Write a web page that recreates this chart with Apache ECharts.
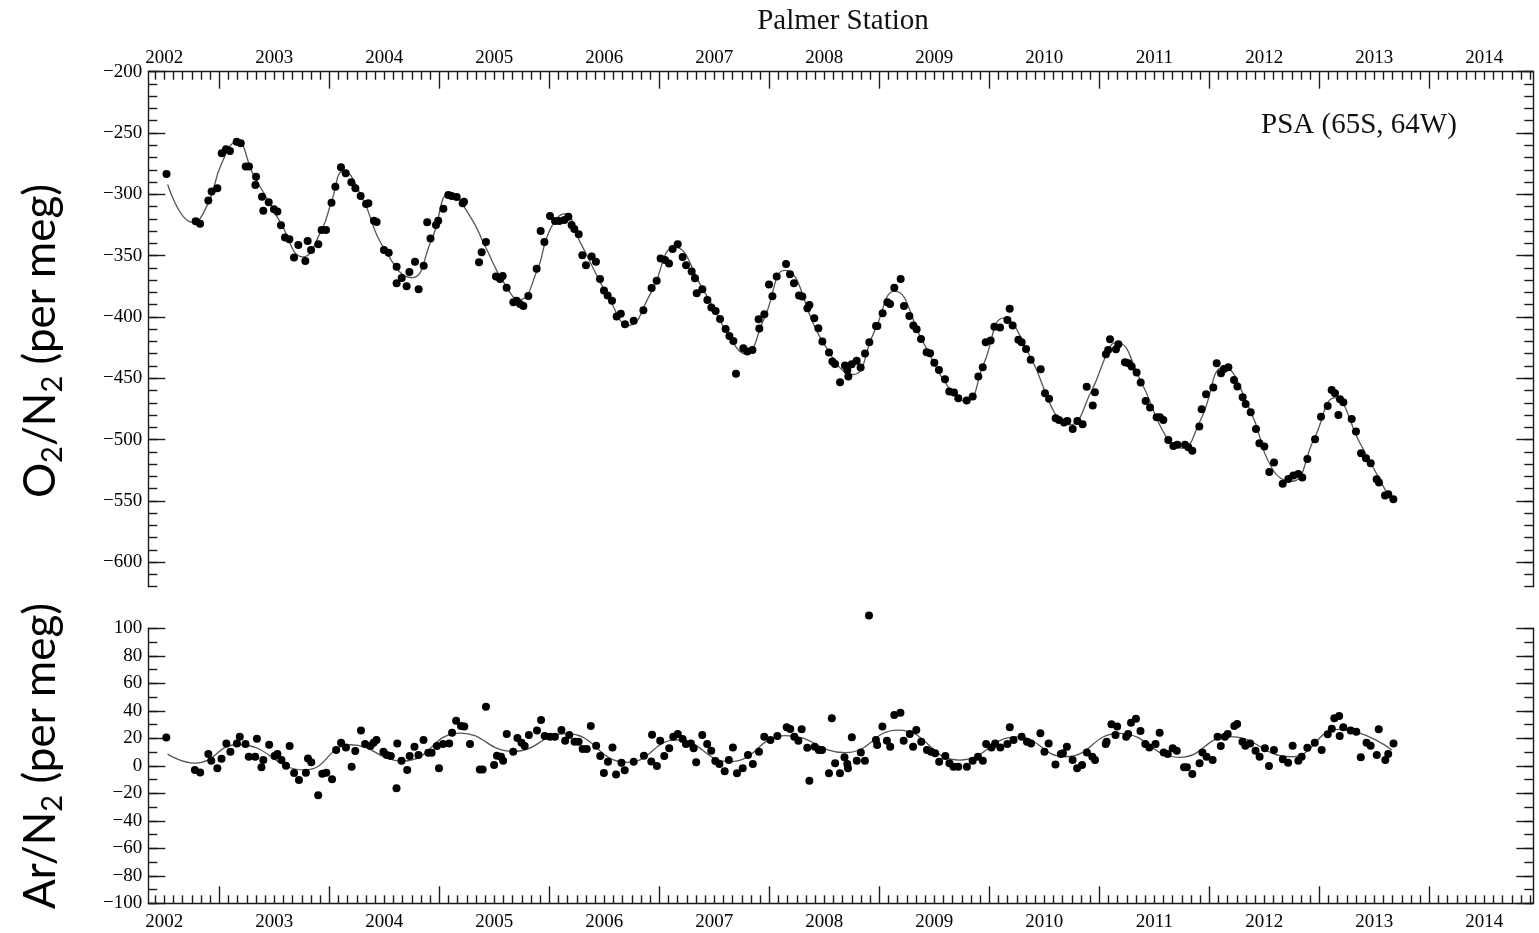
<!DOCTYPE html>
<html><head><meta charset="utf-8">
<script src="https://cdn.jsdelivr.net/npm/echarts@6/dist/echarts.min.js"></script>
<style>html,body{margin:0;padding:0;background:#fff}#c{width:1539px;height:933px}</style>
</head><body><div id="c"></div>
<script>
// ---------- data (decimal years, per meg) ----------
const yearLabels = [2002,2003,2004,2005,2006,2007,2008,2009,2010,2011,2012,2013,2014];
const o2TickLabels = [-600,-550,-500,-450,-400,-350,-300,-250,-200];
const arTickLabels = [-100,-80,-60,-40,-20,0,20,40,60,80,100];

const o2Samples = [
[2002.02,-283.4],[2002.285,-322],[2002.325,-324],[2002.40,-305],[2002.43,-297.8],[2002.482,-295.1],
[2002.522,-266.5],[2002.561,-263.3],[2002.597,-264.6],[2002.658,-257.1],[2002.695,-258.4],[2002.74,-277.4],
[2002.77,-277.4],[2002.834,-285.6],[2002.828,-292.4],[2002.888,-301.9],[2002.949,-306.5],[2002.900,-313.3],
[2002.997,-312.2],[2003.028,-314.1],[2003.061,-325.3],[2003.097,-335.3],[2003.137,-336.7],[2003.218,-341.3],
[2003.179,-351.6],[2003.282,-354.3],[2003.303,-338.0],[2003.334,-345.4],[2003.40,-340.8],[2003.43,-329.1],
[2003.47,-329.1],[2003.52,-306.8],[2003.555,-293.8],[2003.606,-278.0],[2003.649,-282.9],[2003.70,-290.2],
[2003.737,-295.1],[2003.785,-301.4],[2003.834,-307.9],[2003.855,-307.3],[2003.906,-321.5],[2003.93,-322.6],
[2003.997,-345.4],[2004.04,-347.6],[2004.112,-359],[2004.158,-368.2],[2004.112,-372.6],[2004.203,-375],
[2004.228,-363.3],[2004.279,-354.9],[2004.312,-377.4],[2004.358,-358.2],[2004.42,-336.1],[2004.39,-322.8],
[2004.47,-325],[2004.49,-321.5],[2004.537,-311.7],[2004.582,-300.5],[2004.612,-301.4],[2004.658,-302.2],
[2004.712,-307.3],[2004.724,-306],[2004.861,-355.4],[2004.885,-347.3],[2004.924,-338.8],
[2005.015,-367.1],[2005.052,-369],[2005.076,-366.6],[2005.112,-376.1],[2005.173,-388],[2005.203,-386.7],
[2005.234,-389.4],[2005.264,-391],[2005.309,-382.9],[2005.385,-360.6],[2005.421,-329.9],[2005.455,-338.8],
[2005.506,-317.6],[2005.552,-321.7],[2005.591,-321.7],[2005.637,-320.9],[2005.673,-318.2],[2005.703,-325],
[2005.727,-328.2],[2005.767,-332.6],[2005.8,-349.7],[2005.833,-357.9],[2005.885,-350.8],[2005.924,-354.9],
[2005.961,-369],[2005.997,-378.5],[2006.03,-382.6],[2006.07,-386.7],[2006.112,-399.7],[2006.15,-397.5],
[2006.188,-406],[2006.267,-403.2],[2006.355,-394.5],[2006.43,-376.3],[2006.476,-370.4],[2006.512,-352.4],
[2006.552,-353.5],[2006.588,-356.5],[2006.621,-344.5],[2006.667,-340.7],[2006.712,-351.1],[2006.743,-357.9],
[2006.794,-363],[2006.824,-368.5],[2006.84,-380.7],[2006.891,-377.4],[2006.937,-386.1],[2006.973,-392.4],
[2007.012,-395.1],[2007.052,-401.6],[2007.103,-409.8],[2007.137,-415.5],[2007.173,-419.6],[2007.197,-446.4],
[2007.264,-425.5],[2007.3,-428.2],[2007.346,-426.9],[2007.403,-401.9],[2007.409,-409.5],[2007.455,-397.8],
[2007.497,-373.6],[2007.528,-383.1],[2007.567,-367.1],[2007.652,-356.8],[2007.688,-365.2],[2007.724,-372.5],
[2007.77,-382.6],[2007.8,-383.4],[2007.846,-392.9],[2007.864,-390.2],[2007.909,-401.1],[2007.946,-409.2],
[2007.982,-420.1],[2008.043,-429.0],[2008.073,-436.4],[2008.097,-438.3],[2008.143,-453.2],[2008.188,-439.6],
[2008.209,-443.2],[2008.218,-448.6],[2008.249,-438.6],[2008.294,-435.8],[2008.33,-441.3],[2008.37,-429.9],
[2008.409,-420.6],[2008.47,-407.3],[2008.482,-407.3],[2008.53,-397],[2008.573,-388],[2008.597,-389.4],
[2008.636,-376.1],[2008.694,-369],[2008.724,-391],[2008.773,-399.2],[2008.809,-407],[2008.839,-410],
[2008.879,-417.9],[2008.93,-428.8],[2008.961,-429.6],[2009.0,-437.4],[2009.042,-443.2],[2009.097,-450.8],
[2009.136,-460.8],[2009.179,-461.7],[2009.218,-466.3],[2009.294,-468.2],[2009.349,-464.9],[2009.4,-448.6],
[2009.44,-441],[2009.467,-420.6],[2009.512,-419.3],[2009.546,-407.9],[2009.597,-408.7],[2009.664,-402.4],
[2009.685,-393.4],[2009.712,-407],[2009.764,-418.7],[2009.794,-420.6],[2009.834,-426.1],[2009.876,-435],
[2009.967,-442.6],[2010.006,-462.2],[2010.043,-466.8],[2010.103,-482.6],[2010.133,-484],[2010.179,-486.1],
[2010.209,-484.8],[2010.258,-491.3],[2010.3,-484.8],[2010.348,-487.5],[2010.385,-457],[2010.44,-472.3],
[2010.46,-461.4],[2010.56,-430.4],[2010.58,-426.9],[2010.597,-418.2],[2010.651,-426.4],[2010.673,-422.3],
[2010.733,-437],[2010.764,-437.8],[2010.794,-440.5],[2010.839,-445.4],[2010.876,-453.5],[2010.921,-468.5],
[2010.961,-473.9],[2011.021,-481.8],[2011.051,-481.8],[2011.082,-484],[2011.127,-500.3],[2011.173,-505.2],
[2011.209,-504.3],[2011.279,-504.3],[2011.309,-506.3],[2011.345,-509.2],[2011.409,-489.4],[2011.43,-475.3],
[2011.47,-463.1],[2011.536,-457.6],[2011.567,-437.8],[2011.606,-445.9],[2011.633,-442.4],[2011.673,-441],
[2011.724,-451.4],[2011.755,-456.8],[2011.803,-465.5],[2011.83,-470.9],[2011.876,-477.7],[2011.924,-491.3],
[2011.955,-503],[2012.0,-505.7],[2012.045,-526.4],[2012.088,-518.8],[2012.167,-536.1],[2012.218,-532.1],
[2012.264,-529.3],[2012.309,-528],[2012.345,-531],[2012.391,-515.8],[2012.461,-499.7],[2012.515,-481.3],
[2012.576,-472.6],[2012.612,-459.5],[2012.642,-462.2],[2012.688,-467.1],[2012.718,-469.6],[2012.673,-479.9],
[2012.794,-483.2],[2012.833,-493.5],[2012.879,-511.1],[2012.924,-515.2],[2012.967,-519.3],[2013.021,-532.3],
[2013.042,-535.1],[2013.097,-545.7],[2013.127,-544.6],[2013.173,-548.6]
];

const o2Fit = [
[2002.03,-292],[2002.26,-323],[2002.40,-307],[2002.52,-275],[2002.66,-257],
[2002.81,-284],[2002.95,-306],[2003.05,-322],[2003.26,-351],[2003.43,-329],[2003.52,-306],[2003.63,-281],
[2003.80,-303],[2003.99,-343],[2004.25,-368],[2004.43,-337],[2004.60,-299],[2004.78,-318],[2004.92,-343],
[2005.08,-371],[2005.23,-386],[2005.39,-362],[2005.50,-330],[2005.64,-316],[2005.78,-339],[2006.05,-386],
[2006.22,-407],[2006.42,-381],[2006.64,-343],[2006.90,-378],[2007.17,-421],[2007.28,-430],[2007.45,-402],
[2007.64,-362],[2007.99,-421],[2008.26,-447],[2008.45,-413],[2008.64,-379],[2008.90,-421],[2009.14,-459],
[2009.29,-469],[2009.45,-438],[2009.63,-401],[2009.87,-432],[2010.11,-481],[2010.23,-488],[2010.42,-462],
[2010.60,-424],[2010.66,-421],[2010.87,-451],[2011.11,-498],[2011.25,-507],[2011.42,-484],[2011.63,-441],
[2011.87,-476],[2012.08,-525],[2012.25,-534],[2012.45,-500],[2012.64,-466],[2012.87,-503],[2013.14,-548]
];

const arSamples = [
[2002.018,20.5],[2002.278,-3.1],[2002.326,-4.8],[2002.40,8.6],[2002.427,3.7],[2002.482,-1.8],[2002.52,5.2],
[2002.564,16.3],[2002.601,10.3],[2002.66,16.3],[2002.686,21.2],[2002.738,15.9],[2002.768,6.6],[2002.827,6.6],
[2002.842,19.7],[2002.883,-1.1],[2002.90,4.2],[2002.953,15.4],[2003.002,7.1],[2003.028,8.6],[2003.065,4.2],
[2003.106,0.1],[2003.139,14.4],[2003.18,-5.2],[2003.224,-10.3],[2003.287,-5],[2003.306,5.4],[2003.336,2.5],
[2003.399,-21.5],[2003.436,-5.7],[2003.473,-5],[2003.525,-9.8],[2003.562,11.5],[2003.607,16.8],[2003.651,13.4],
[2003.703,-0.6],[2003.736,10.8],[2003.788,25.6],[2003.825,15.9],[2003.874,14.4],[2003.903,16.8],[2003.929,18.8],
[2003.992,10.3],[2004.022,7.9],[2004.059,7.1],[2004.111,-16.4],[2004.118,16.3],[2004.156,3.7],[2004.208,-3.1],
[2004.23,7.1],[2004.274,13.9],[2004.311,7.9],[2004.356,18.8],[2004.4,9.5],[2004.43,9.5],[2004.478,14.4],
[2004.497,-1.8],[2004.534,15.9],[2004.59,16.3],[2004.616,24.1],[2004.653,32.8],[2004.697,29],[2004.727,28.5],
[2004.779,15.9],[2004.868,-2.6],[2004.894,-2.6],[2004.924,43],[2004.998,0.6],[2005.024,7.4],[2005.061,6.6],
[2005.08,3.7],[2005.113,23.1],[2005.172,10.3],[2005.21,20.2],[2005.247,16.8],[2005.276,14.4],[2005.314,22.4],
[2005.388,25.6],[2005.425,33.3],[2005.458,21.7],[2005.506,21.2],[2005.551,21.2],[2005.61,26],[2005.644,18.3],
[2005.681,22.4],[2005.729,17.5],[2005.766,17.5],[2005.803,12.2],[2005.84,12.2],[2005.877,29],[2005.926,14.6],
[2005.963,7.1],[2005.996,-5.2],[2006.033,3],[2006.074,13.4],[2006.107,-6.4],[2006.156,2.3],[2006.185,-3.3],
[2006.267,3],[2006.36,7.4],[2006.434,22.6],[2006.427,3.2],[2006.478,-0.2],[2006.508,18.3],[2006.545,7.1],
[2006.59,12.7],[2006.627,21.2],[2006.668,23.1],[2006.712,19.5],[2006.742,15.9],[2006.787,16.3],[2006.812,12.7],
[2006.835,2.5],[2006.89,22.4],[2006.935,15.9],[2006.972,11],[2007.009,3.5],[2007.046,1.3],[2007.094,-4],
[2007.132,4.2],[2007.169,13.4],[2007.206,-5.5],[2007.258,-1.8],[2007.306,7.9],[2007.35,1.3],[2007.406,10.3],
[2007.454,21.2],[2007.51,18.8],[2007.573,21.7],[2007.658,28],
[2007.69,26.8],[2007.727,21.2],[2007.764,18.3],[2007.794,26.5],[2007.845,13.2],[2007.864,-10.8],[2007.913,13.9],
[2007.95,11.5],[2007.979,11.5],[2008.042,-5.5],[2008.068,34.5],[2008.098,1.8],[2008.142,-5.5],[2008.183,6.2],
[2008.209,1.3],[2008.215,-1.8],[2008.25,20.7],[2008.295,3.7],[2008.332,9.6],[2008.369,3.7],[2008.406,109.4],
[2008.469,18.8],[2008.48,15.1],[2008.528,28.5],[2008.569,18.3],[2008.599,13.9],[2008.636,36.9],[2008.692,38.6],
[2008.721,18.3],[2008.777,23.1],[2008.807,13.9],[2008.836,26],[2008.881,17.5],[2008.933,11.5],[2008.97,10.3],
[2009.007,9.1],[2009.044,3],[2009.1,7.1],[2009.137,1.8],[2009.174,-0.6],[2009.218,-0.6],[2009.296,-0.6],
[2009.348,3.7],[2009.397,6.6],[2009.441,3.7],[2009.471,15.9],[2009.519,13.4],[2009.553,16.3],[2009.6,13.4],
[2009.664,15.9],[2009.686,28],[2009.72,18.8],[2009.794,21.2],[2009.842,17.5],[2009.879,16.3],[2009.964,23.6],
[2010.001,10.3],[2010.039,16.3],[2010.101,1],[2010.15,8.6],[2010.169,9.1],[2010.205,13.9],[2010.257,4.2],
[2010.298,-1.8],[2010.343,0.6],[2010.387,9.6],[2010.436,6.6],[2010.461,4.2],[2010.558,15.9],[2010.566,17.5],
[2010.61,30.2],[2010.647,22.4],[2010.662,28.5],[2010.744,21.2],[2010.762,23.1],[2010.788,31.4],[2010.833,34.3],
[2010.874,25.3],[2010.918,15.9],[2010.955,13.4],[2011.011,15.9],[2011.048,24.1],[2011.085,9.6],[2011.122,8.6],
[2011.167,12.7],[2011.204,11],[2011.27,-1.1],[2011.296,-1.1],[2011.345,-5.9],[2011.411,1.8],[2011.437,9.6],
[2011.475,6.6],[2011.53,4.2],[2011.575,21.2],[2011.604,14.4],[2011.641,21.2],[2011.667,23.1],[2011.727,29],
[2011.753,30.4],[2011.801,17.5],[2011.827,14.6],[2011.871,16.3],[2011.92,11],[2011.957,6.6],[2012.005,12.7],
[2012.042,-0.2],[2012.087,11.5],[2012.168,4.7],[2012.216,2.3],[2012.257,14.6],[2012.309,3.7],[2012.339,6.6],
[2012.391,13.2],[2012.458,16.8],[2012.521,11.5],[2012.576,22.9],[2012.613,27],[2012.636,34.5],[2012.68,36.2],
[2012.685,21.7],[2012.718,28],[2012.785,25.6],[2012.836,24.8],[2012.877,6.2],[2012.929,16.8],[2012.966,14.6],
[2013.022,7.9],[2013.04,26.5],[2013.1,4.2],[2013.126,8.6],[2013.174,16.3]
];

const arFit = [
[2002.03,8.5],[2002.28,2.0],[2002.67,15.5],[2003.28,-3.0],[2003.69,15.3],[2004.17,3.5],[2004.69,23.8],
[2005.17,10.5],[2005.65,23.5],[2006.21,2.5],[2006.66,18.8],[2007.14,3.0],[2007.65,22.0],[2008.19,9.6],
[2008.67,26.0],[2009.23,4.2],[2009.75,21.0],[2010.19,6.6],[2010.68,23.6],[2011.23,6.2],[2011.68,21.2],
[2012.24,6.6],[2012.68,26.5],[2013.16,11.5]
];

// ---------- axes configuration ----------
const XMIN = 2001.8545, XMAX = 2014.445;
const majorX = yearLabels.map(y => y + 0.5).filter(v => v > XMIN && v < XMAX);
const minorX = [];
for (let y = 2001; y <= 2014; y++) for (let m = 1; m < 12; m++) { const v = y + 0.5 + m / 12; if (v > XMIN && v < XMAX) minorX.push(v); }
const o2Minor = []; for (let v = -620; v <= -200; v += 10) o2Minor.push(v);
const arMinor = []; for (let v = -100; v <= 100; v += 10) arMinor.push(v);

const FONT = 'Liberation Serif';
const AX = '#1a1a1a';
const minus = v => String(v).replace('-', '\u2212');

function xAx(gridIndex, position, ticks, len, labels) {
  return {
    type: 'value', gridIndex, position, min: XMIN, max: XMAX,
    axisLine: { show: !!labels, onZero: false, lineStyle: { color: AX, width: 1.4 } },
    axisTick: { show: true, inside: true, length: len, customValues: ticks, lineStyle: { color: AX, width: 1.4 } },
    axisLabel: labels ? { show: true, customValues: yearLabels, formatter: v => String(Math.round(v)),
      color: '#000', fontFamily: FONT, fontSize: 19, margin: position === 'top' ? 4 : 9 } : { show: false },
    splitLine: { show: false }
  };
}
function yAx(gridIndex, position, min, max, ticks, len, line, labels) {
  return {
    type: 'value', gridIndex, position, min, max,
    axisLine: { show: line, onZero: false, lineStyle: { color: AX, width: 1.4 } },
    axisTick: { show: true, inside: true, length: len, customValues: ticks, lineStyle: { color: AX, width: 1.4 } },
    axisLabel: labels ? { show: true, customValues: labels, formatter: v => minus(Math.round(v)),
      color: '#000', fontFamily: FONT, fontSize: 19, margin: 6 } : { show: false },
    splitLine: { show: false }
  };
}

const titleRich = {
  m: { fontSize: 44, fontFamily: 'Lato', lineHeight: 52, fill: '#000' },
  s: { fontSize: 29, fontFamily: 'Lato', lineHeight: 28, verticalAlign: 'bottom', fill: '#000' }
};

const chart = echarts.init(document.getElementById('c'), null, { renderer: 'canvas' });
chart.setOption({
  backgroundColor: '#fff',
  animation: false,
  grid: [
    { left: 148.3, right: 5.7, top: 71.7, height: 515, outerBoundsMode: 'none', containLabel: false },
    { left: 148.3, right: 5.7, top: 628.3, height: 275, outerBoundsMode: 'none', containLabel: false }
  ],
  xAxis: [
    xAx(0, 'top', majorX, 17, true),
    xAx(0, 'top', minorX, 8, false),
    xAx(1, 'bottom', majorX, 17, true),
    xAx(1, 'bottom', minorX, 8, false)
  ],
  yAxis: [
    yAx(0, 'left', -620, -200, o2TickLabels, 17, true, o2TickLabels),
    yAx(0, 'left', -620, -200, o2Minor, 9, false, null),
    yAx(0, 'right', -620, -200, o2TickLabels, 17, true, null),
    yAx(0, 'right', -620, -200, o2Minor, 9, false, null),
    yAx(1, 'left', -100, 100, arTickLabels, 17, true, arTickLabels),
    yAx(1, 'left', -100, 100, arMinor, 9, false, null),
    yAx(1, 'right', -100, 100, arTickLabels, 17, true, null),
    yAx(1, 'right', -100, 100, arMinor, 9, false, null)
  ],
  series: [
    { name: 'O2/N2 fit', type: 'line', xAxisIndex: 0, yAxisIndex: 0, data: o2Fit, smooth: 0.5,
      showSymbol: false, lineStyle: { color: '#555', width: 1.3 }, z: 2 },
    { name: 'O2/N2', type: 'scatter', xAxisIndex: 0, yAxisIndex: 0, data: o2Samples, symbolSize: 8,
      itemStyle: { color: '#000', opacity: 1 }, clip: false, z: 3 },
    { name: 'Ar/N2 fit', type: 'line', xAxisIndex: 2, yAxisIndex: 4, data: arFit, smooth: 0.5,
      showSymbol: false, lineStyle: { color: '#555', width: 1.3 }, z: 2 },
    { name: 'Ar/N2', type: 'scatter', xAxisIndex: 2, yAxisIndex: 4, data: arSamples, symbolSize: 8,
      itemStyle: { color: '#000', opacity: 1 }, clip: false, z: 3 }
  ],
  graphic: [
    { type: 'text', x: 843, y: 21, style: { text: 'Palmer Station', font: '29px "Liberation Serif"', fill: '#111', align: 'center', verticalAlign: 'middle' } },
    { type: 'text', x: 1359, y: 125, style: { text: 'PSA (65S, 64W)', font: '29px "Liberation Serif"', fill: '#111', align: 'center', verticalAlign: 'middle' } },
    { type: 'text', x: 41, y: 341, rotation: Math.PI / 2,
      style: { text: '{m|O}{s|2}{m|/N}{s|2}{m| (per meg)}', align: 'center', verticalAlign: 'middle', fill: '#000', rich: titleRich } },
    { type: 'text', x: 41, y: 756, rotation: Math.PI / 2,
      style: { text: '{m|Ar/N}{s|2}{m| (per meg)}', align: 'center', verticalAlign: 'middle', fill: '#000', rich: titleRich } }
  ]
});
</script></body></html>
